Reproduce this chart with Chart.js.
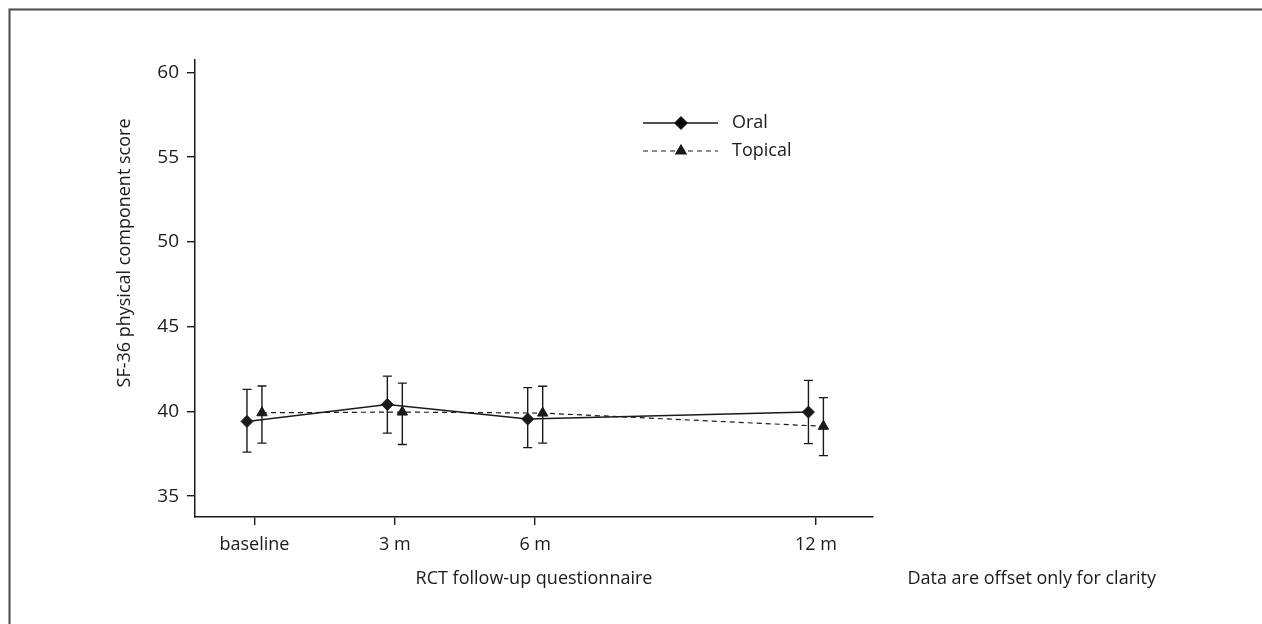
<!DOCTYPE html>
<html>
<head>
<meta charset="utf-8">
<script src="https://cdn.jsdelivr.net/npm/chart.js@4.4.1/dist/chart.umd.min.js"></script>
<style>
  html, body { margin: 0; padding: 0; background: #fff; }
  #wrap { width: 1262px; height: 624px; }
</style>
</head>
<body>
<div id="wrap"><canvas id="c" width="1262" height="624"></canvas></div>
<script>
// ---- data ----
const categories = ["baseline", "3 m", "6 m", "12 m"];
const months = [0, 3, 6, 12];
const offsetMonths = 0.16; // "Data are offset only for clarity"

const oralMean = [39.41, 40.41, 39.55, 39.96];
const oralLow  = [37.60, 38.72, 37.86, 38.10];
const oralHigh = [41.30, 42.08, 41.40, 41.83];

const topicalMean = [39.92, 39.96, 39.90, 39.12];
const topicalLow  = [38.13, 38.05, 38.13, 37.39];
const topicalHigh = [41.50, 41.67, 41.48, 40.81];

const yTicks = [35, 40, 45, 50, 55, 60];
const yTitle = 'SF-36 physical component score';

const FONT = "'Open Sans', Lato, 'DejaVu Sans', sans-serif";
const INK = '#1a1a1a';

function pts(mean, low, high, shift) {
  return months.map((m, i) => ({ x: m + shift, y: mean[i], lo: low[i], hi: high[i] }));
}

const errorBars = {
  id: 'errorBars',
  beforeDatasetsDraw(chart) {
    const ctx = chart.ctx;
    const xs = chart.scales.x, ys = chart.scales.y;
    ctx.save();
    ctx.strokeStyle = INK;
    ctx.lineWidth = 1.4;
    chart.data.datasets.forEach(ds => {
      ds.data.forEach(p => {
        const x = xs.getPixelForValue(p.x);
        const yl = ys.getPixelForValue(p.lo);
        const yh = ys.getPixelForValue(p.hi);
        ctx.beginPath();
        ctx.moveTo(x, yl); ctx.lineTo(x, yh);
        ctx.moveTo(x - 4.5, yl); ctx.lineTo(x + 4.5, yl);
        ctx.moveTo(x - 4.5, yh); ctx.lineTo(x + 4.5, yh);
        ctx.stroke();
      });
    });
    ctx.restore();
  }
};

const extras = {
  id: 'extras',
  afterDraw(chart) {
    const ctx = chart.ctx;
    ctx.save();
    // frame (top and left edges)
    ctx.strokeStyle = '#4a4a4a';
    ctx.lineWidth = 2;
    ctx.beginPath();
    ctx.moveTo(9.5, 624); ctx.lineTo(9.5, 9.5); ctx.lineTo(1262, 9.5);
    ctx.stroke();

    // y-axis title
    ctx.save();
    ctx.translate(125, 253);
    ctx.rotate(-Math.PI / 2);
    ctx.fillStyle = INK;
    ctx.font = "18px " + FONT;
    ctx.textAlign = 'center';
    ctx.textBaseline = 'middle';
    ctx.fillText(yTitle, 0, 0);
    ctx.restore();

    // legend
    const items = [
      { ds: chart.data.datasets[0], y: 123 },
      { ds: chart.data.datasets[1], y: 151 }
    ];
    items.forEach(it => {
      ctx.strokeStyle = INK;
      ctx.lineWidth = it.ds.borderWidth;
      ctx.setLineDash(it.ds.borderDash || []);
      ctx.beginPath();
      ctx.moveTo(643, it.y); ctx.lineTo(718, it.y);
      ctx.stroke();
      ctx.setLineDash([]);
      Chart.helpers.drawPoint(ctx, {
        pointStyle: it.ds.pointStyle, radius: it.ds.pointRadius, borderWidth: 1
      }, 681, it.y);
      ctx.fillStyle = INK;
      ctx.font = "18px " + FONT;
      ctx.textBaseline = 'middle';
      ctx.textAlign = 'left';
      ctx.fillText(it.ds.label, 732, it.y);
    });

    // note
    ctx.fillStyle = INK;
    ctx.font = "18px " + FONT;
    ctx.textAlign = 'right';
    ctx.textBaseline = 'middle';
    ctx.fillText("Data are offset only for clarity", 1156, 579);
    ctx.restore();
  }
};

new Chart(document.getElementById('c'), {
  type: 'scatter',
  data: {
    datasets: [
      {
        label: 'Oral',
        data: pts(oralMean, oralLow, oralHigh, -offsetMonths),
        showLine: true,
        borderColor: INK,
        backgroundColor: INK,
        borderWidth: 1.5,
        pointStyle: 'rectRot',
        pointRadius: 6,
        pointBorderWidth: 1,
        pointBackgroundColor: INK,
        pointBorderColor: INK
      },
      {
        label: 'Topical',
        data: pts(topicalMean, topicalLow, topicalHigh, offsetMonths),
        showLine: true,
        borderColor: INK,
        backgroundColor: INK,
        borderWidth: 1.2,
        borderDash: [5, 4],
        pointStyle: 'triangle',
        pointRadius: 6,
        pointBorderWidth: 1,
        pointBackgroundColor: INK,
        pointBorderColor: INK
      }
    ]
  },
  options: {
    responsive: false,
    animation: false,
    layout: { padding: { left: 0, top: 60, right: 389, bottom: 0 } },
    plugins: { legend: { display: false }, tooltip: { enabled: false } },
    scales: {
      x: {
        type: 'linear',
        min: -1.271,
        max: 13.22,
        afterBuildTicks(scale) { scale.ticks = months.map(v => ({ value: v })); },
        afterFit(scale) { scale.height = 107; },
        grid: { drawOnChartArea: false, drawTicks: true, tickLength: 8, color: INK, lineWidth: 1.4 },
        border: { display: true, color: INK, width: 1.5 },
        ticks: {
          color: INK,
          font: { family: FONT, size: 18 },
          padding: 9,
          maxRotation: 0,
          callback: (v) => { const i = months.indexOf(v); return i >= 0 ? categories[i] : ''; }
        },
        title: {
          display: true,
          text: 'RCT follow-up questionnaire',
          color: INK,
          font: { family: FONT, size: 18 },
          padding: { top: 0, bottom: 34 }
        }
      },
      y: {
        min: 33.77,
        max: 60.73,
        afterBuildTicks(scale) { scale.ticks = yTicks.map(v => ({ value: v })); },
        afterFit(scale) { scale.width = 195; },
        grid: { drawOnChartArea: false, drawTicks: true, tickLength: 8, color: INK, lineWidth: 1.4 },
        border: { display: true, color: INK, width: 1.5 },
        ticks: {
          color: INK,
          font: { family: FONT, size: 19 },
          padding: 8
        },
        title: { display: false }
      }
    }
  },
  plugins: [errorBars, extras]
});
</script>
</body>
</html>
